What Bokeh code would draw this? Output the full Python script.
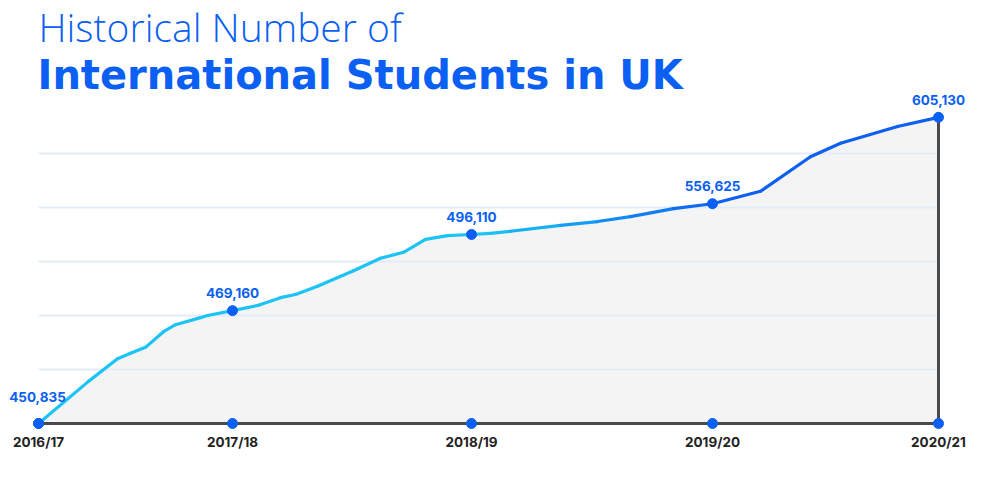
from bokeh.plotting import figure
from bokeh.models import Label, ColumnDataSource
from bokeh.core.properties import value
from bokeh.embed import file_html
from bokeh.resources import INLINE

# ---- data ----
years = ["2016/17", "2017/18", "2018/19", "2019/20", "2020/21"]
students = [450835, 469160, 496110, 556625, 605130]
# horizontal position of each year on the chart, and its drawn height (in grid steps)
year_x = [0, 194, 433, 674, 900]
year_level = [0.0, 2.09, 3.50, 4.07, 5.67]
# the drawn path between the years (horizontal position, height in grid steps)
path_x = [0, 50, 79, 92, 107, 125, 137, 162, 169, 194, 220, 242, 257, 279, 315,
          342, 365, 387, 409, 432, 452, 472, 522, 559, 592, 635, 674, 722, 772,
          802, 859, 900]
path_level = [0.0, 0.78, 1.20, 1.30, 1.41, 1.70, 1.83, 1.96, 2.00, 2.09, 2.19,
              2.33, 2.39, 2.54, 2.83, 3.06, 3.17, 3.41, 3.48, 3.50, 3.52, 3.56,
              3.67, 3.74, 3.83, 3.98, 4.07, 4.30, 4.94, 5.19, 5.50, 5.67]
grid_levels = [1, 2, 3, 4, 5]

title_line1 = "Historical Number of"
title_line2 = "International Students in UK"

# ---- styling ----
W, H = 968, 481
STEP = 54.0  # pixels per grid step
BLUE = "#0b5ff2"
CYAN = (27, 196, 245)
DEEP = (14, 96, 240)
GRAY_LINE = "#4a4a4a"

p = figure(width=W, height=H, x_range=(-38, W - 38), y_range=(-(H - 423) / STEP, 423 / STEP),
           output_backend="svg", toolbar_location=None, min_border=0,
           x_axis_location=None, y_axis_location=None)
p.grid.visible = False
p.outline_line_color = None
p.background_fill_color = "white"
p.border_fill_color = "white"

# area under the path
p.varea(x=path_x, y1=[0] * len(path_x), y2=path_level, fill_color="#f4f4f4")

# grid lines
p.segment(x0=[0] * len(grid_levels), x1=[year_x[-1]] * len(grid_levels),
          y0=grid_levels, y1=grid_levels, line_color="#e3ebf9", line_width=2)

# baseline and right edge
p.line([year_x[0], year_x[-1]], [0, 0], line_color=GRAY_LINE, line_width=3)
p.line([year_x[-1], year_x[-1]], [0, year_level[-1]], line_color=GRAY_LINE, line_width=3)

# gradient line (cyan -> blue)
def mix(t):
    t = max(0.0, min(1.0, t))
    r, g, b = (round(CYAN[i] + (DEEP[i] - CYAN[i]) * t) for i in range(3))
    return "#%02x%02x%02x" % (r, g, b)

x0s, x1s, y0s, y1s, cols = [], [], [], [], []
for i in range(len(path_x) - 1):
    x0s.append(path_x[i]); x1s.append(path_x[i + 1])
    y0s.append(path_level[i]); y1s.append(path_level[i + 1])
    mid = (path_x[i] + path_x[i + 1]) / 2
    cols.append(mix((mid - 450) / 230))
seg = ColumnDataSource(dict(x0=x0s, x1=x1s, y0=y0s, y1=y1s, c=cols))
p.segment(x0="x0", x1="x1", y0="y0", y1="y1", line_color="c", line_width=3.2,
          line_cap="round", source=seg)

# dots
p.scatter(year_x, [0] * len(year_x), size=10, color=BLUE)
p.scatter(year_x, year_level, size=10, color=BLUE)

# value labels
lab = [f"{v:,}" for v in students]
first = ColumnDataSource(dict(x=[year_x[0] - 1], y=[year_level[0] + 27 / STEP], t=lab[:1]))
rest = ColumnDataSource(dict(x=year_x[1:], y=[l + 17.5 / STEP for l in year_level[1:]], t=lab[1:]))
for src in (first, rest):
    p.text(x="x", y="y", text="t", source=src, text_align="center", text_baseline="middle",
           text_font=value("Inter"), text_font_style="bold", text_font_size="13.5px",
           text_color=BLUE)

# year labels
ys = ColumnDataSource(dict(x=year_x, y=[-18 / STEP] * len(year_x), t=years))
p.text(x="x", y="y", text="t", source=ys, text_align="center", text_baseline="middle",
       text_font=value("Inter"), text_font_style="bold", text_font_size="13.5px",
       text_color="#222222")

# titles
p.add_layout(Label(x=38, y=H - 26, x_units="screen", y_units="screen", text=title_line1,
                   text_font="Open Sans Light", text_font_size="39px", text_color=BLUE,
                   text_baseline="alphabetic"))
p.add_layout(Label(x=37, y=H - 74, x_units="screen", y_units="screen", text=title_line2,
                   text_font="DejaVu Sans", text_font_style="bold", text_font_size="40px",
                   text_color=BLUE, text_baseline="alphabetic"))

open("out.html", "w").write(file_html(p, INLINE))
